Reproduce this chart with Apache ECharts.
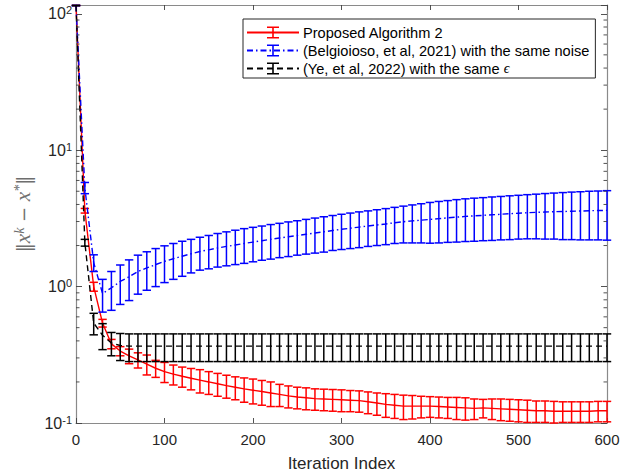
<!DOCTYPE html>
<html>
<head>
<meta charset="utf-8">
<script src="https://cdn.jsdelivr.net/npm/echarts@6/dist/echarts.min.js"></script>
<style>html,body{margin:0;padding:0;background:#fff;}#c{width:635px;height:476px;}</style>
</head>
<body>
<div id="c"></div>
<script>
// ---- data ----
const iterations = [0,10,20,30,40,50,60,70,80,90,100,110,120,130,140,150,160,170,180,190,200,
  210,220,230,240,250,260,270,280,290,300,310,320,330,340,350,360,370,380,390,400,
  410,420,430,440,450,460,470,480,490,500,510,520,530,540,550,560,570,580,590,600];

const propMean = [115,3.6,1.0,0.54,0.38,0.337,0.31,0.29,0.27,0.252,0.238,0.228,0.22,0.213,0.206,0.2,0.194,0.188,0.183,0.178,0.174,
  0.17,0.166,0.162,0.158,0.155,0.153,0.151,0.15,0.149,0.148,0.147,0.146,0.143,0.14,0.137,0.135,0.133,0.133,0.133,0.133,
  0.132,0.131,0.13,0.129,0.128,0.129,0.128,0.127,0.126,0.125,0.124,0.123,0.123,0.122,0.122,0.122,0.122,0.122,0.123,0.123];
const propStd = [0,0.14,0.075,0.035,0.03,0.026,0.038,0.037,0.045,0.036,0.04,0.038,0.037,0.038,0.04,0.038,0.037,0.036,0.035,0.036,0.036,
  0.035,0.034,0.03,0.029,0.028,0.028,0.027,0.027,0.027,0.027,0.026,0.026,0.026,0.026,0.027,0.027,0.027,0.026,0.024,0.023,
  0.023,0.023,0.024,0.024,0.022,0.02,0.022,0.023,0.023,0.023,0.023,0.022,0.022,0.022,0.021,0.021,0.021,0.021,0.021,0.021];

const belgMean = [115,5.3,1.5,0.89,0.98,1.09,1.18,1.29,1.37,1.45,1.53,1.6,1.67,1.74,1.81,1.86,1.92,1.97,2.02,2.07,2.12,
  2.17,2.22,2.27,2.32,2.37,2.42,2.47,2.52,2.58,2.63,2.68,2.73,2.78,2.83,2.88,2.94,2.99,3.03,3.07,3.11,
  3.15,3.19,3.23,3.27,3.3,3.33,3.36,3.39,3.42,3.45,3.48,3.5,3.52,3.54,3.55,3.57,3.58,3.6,3.61,3.62];
const belgStd = [0,0.5,0.21,0.24,0.31,0.35,0.39,0.41,0.43,0.45,0.46,0.47,0.48,0.48,0.49,0.51,0.53,0.55,0.57,0.59,0.6,
  0.61,0.63,0.64,0.66,0.67,0.69,0.71,0.73,0.74,0.76,0.78,0.8,0.81,0.83,0.85,0.87,0.9,0.94,0.98,1.03,
  1.06,1.08,1.11,1.13,1.15,1.16,1.18,1.19,1.21,1.22,1.24,1.26,1.29,1.31,1.34,1.36,1.38,1.4,1.41,1.43];

const yeMean = [115,2.1,0.54,0.44,0.386,0.37,0.366,0.366,0.366,0.366,0.366,0.366,0.366,0.366,0.366,0.366,0.366,0.366,0.366,0.366,0.366,
  0.366,0.366,0.366,0.366,0.366,0.366,0.366,0.366,0.366,0.366,0.366,0.366,0.366,0.366,0.366,0.366,0.366,0.366,0.366,0.366,
  0.366,0.366,0.366,0.366,0.366,0.366,0.366,0.366,0.366,0.366,0.366,0.366,0.366,0.366,0.366,0.366,0.366,0.366,0.366,0.366];
const yeStd = [0,0.12,0.097,0.095,0.075,0.083,0.084,0.084,0.084,0.084,0.084,0.084,0.084,0.084,0.084,0.084,0.084,0.084,0.084,0.084,0.084,
  0.084,0.084,0.084,0.084,0.084,0.084,0.084,0.084,0.084,0.084,0.084,0.084,0.084,0.084,0.084,0.084,0.084,0.084,0.084,0.084,
  0.084,0.084,0.084,0.084,0.084,0.084,0.084,0.084,0.084,0.084,0.084,0.084,0.084,0.084,0.084,0.084,0.084,0.084,0.084,0.084];

const seriesNames = ['Proposed Algorithm 2', '(Belgioioso, et al, 2021) with the same noise', '(Ye, et al, 2022) with the same ϵ'];
const xTicks = [0, 100, 200, 300, 400, 500, 600];
const yMinorTicks = [0.2,0.3,0.4,0.5,0.6,0.7,0.8,0.9,2,3,4,5,6,7,8,9,20,30,40,50,60,70,80,90];

const X_MIN = 0, X_MAX = 600, Y_MIN = 0.1, Y_MAX = 116;
const FONT = 'Liberation Sans, Arial, sans-serif';
const AXIS_LINE = '#8a8a8a';
const TICK = '#404040';
const IBEAM = 'path://M0,0L12,0L12,1.6L6.8,1.6L6.8,11.4L12,11.4L12,13L0,13L0,11.4L5.2,11.4L5.2,1.6L0,1.6Z';

function lineSeries(name, mean, color, dash, z) {
  return {
    type: 'line', name: name, z: z,
    data: iterations.map((x, i) => [x, mean[i]]),
    showSymbol: false, symbol: IBEAM, symbolSize: 10,
    itemStyle: { color: color },
    lineStyle: { color: color, width: 1.4, type: dash },
    emphasis: { disabled: true },
    clip: true, animation: false
  };
}
function errorSeries(name, mean, std, color, z) {
  return {
    type: 'custom', name: name, z: z,
    data: iterations.map((x, i) => [x, mean[i] - std[i], mean[i] + std[i]]),
    renderItem: function (params, api) {
      const x = api.value(0);
      const lo = api.coord([x, api.value(1)]);
      const hi = api.coord([x, api.value(2)]);
      const hw = 4.2;
      const st = { stroke: color, lineWidth: 1.5 };
      return { type: 'group', children: [
        { type: 'line', shape: { x1: lo[0], y1: lo[1], x2: hi[0], y2: hi[1] }, style: st },
        { type: 'line', shape: { x1: lo[0] - hw, y1: lo[1], x2: lo[0] + hw, y2: lo[1] }, style: st },
        { type: 'line', shape: { x1: hi[0] - hw, y1: hi[1], x2: hi[0] + hw, y2: hi[1] }, style: st }
      ]};
    },
    emphasis: { disabled: true },
    clip: false, animation: false
  };
}

const minorTickSeries = {
  type: 'custom', silent: true, z: 10,
  data: yMinorTicks.map(v => [X_MIN, v]),
  renderItem: function (params, api) {
    const l = api.coord([X_MIN, api.value(1)]);
    const r = api.coord([X_MAX, api.value(1)]);
    const st = { stroke: TICK, lineWidth: 0.9 };
    return { type: 'group', children: [
      { type: 'line', shape: { x1: l[0], y1: l[1], x2: l[0] + 3.5, y2: l[1] }, style: st },
      { type: 'line', shape: { x1: r[0], y1: r[1], x2: r[0] - 3.5, y2: r[1] }, style: st }
    ]};
  },
  animation: false
};

const chart = echarts.init(document.getElementById('c'), null, { renderer: 'svg' });
const yLabelFmt = v => '{b|10}{s|' + Math.round(Math.log10(v)) + '}';

chart.setOption({
  backgroundColor: '#ffffff',
  animation: false,
  grid: { left: 76, top: 5, right: 28, bottom: 53, outerBoundsMode: 'none', containLabel: false },
  legend: {
    data: seriesNames,
    orient: 'vertical', left: 243, top: 19,
    itemWidth: 52, itemHeight: 15, itemGap: 3,
    padding: [6, 6, 2, 3],
    backgroundColor: '#ffffff', borderColor: '#262626', borderWidth: 1, borderRadius: 0,
    selectedMode: false,
    textStyle: { fontFamily: FONT, fontSize: 14.6, color: '#000', padding: [0, 0, 0, -1],
      rich: { i: { fontFamily: 'Liberation Serif, serif', fontStyle: 'italic', fontSize: 14, color: '#000' } } },
    formatter: n => n.replace('ϵ', '{i|ϵ}')
  },
  xAxis: [{
    type: 'value', min: X_MIN, max: X_MAX, interval: 100,
    name: 'Iteration Index', nameLocation: 'middle', nameGap: 32,
    nameTextStyle: { fontFamily: FONT, fontSize: 17, color: '#262626' },
    axisLine: { show: true, onZero: false, lineStyle: { color: AXIS_LINE, width: 1.2 } },
    axisTick: { show: true, inside: true, length: 5, lineStyle: { color: TICK, width: 0.9 } },
    axisLabel: { fontFamily: FONT, fontSize: 15, color: '#262626', margin: 9,
      formatter: v => (xTicks.indexOf(v) >= 0 ? String(v) : '') },
    splitLine: { show: false }
  }, {
    type: 'value', min: X_MIN, max: X_MAX, interval: 100, position: 'top',
    axisLine: { show: true, onZero: false, lineStyle: { color: AXIS_LINE, width: 1.2 } },
    axisTick: { show: true, inside: true, length: 5, lineStyle: { color: TICK, width: 0.9 } },
    axisLabel: { show: false }, splitLine: { show: false }
  }],
  yAxis: [{
    type: 'log', logBase: 10, min: Y_MIN, max: Y_MAX,
    name: '{n|‖}{i|x}{s|k}{n| − }{i|x}{s|*}{n|‖}', nameLocation: 'middle', nameGap: 37, nameRotate: 90,
    nameTextStyle: { color: '#6e6e6e',
      rich: {
        n: { fontFamily: 'DejaVu Serif, serif', fontSize: 18, color: '#6e6e6e' },
        i: { fontFamily: 'Liberation Serif, serif', fontStyle: 'italic', fontSize: 21, color: '#6e6e6e' },
        s: { fontFamily: 'Liberation Serif, serif', fontStyle: 'italic', fontSize: 14, color: '#6e6e6e', verticalAlign: 'top' }
      } },
    axisLine: { show: true, onZero: false, lineStyle: { color: AXIS_LINE, width: 1.2 } },
    axisTick: { show: true, inside: true, length: 6, lineStyle: { color: TICK, width: 0.9 } },
    axisLabel: { showMaxLabel: false, margin: 4, formatter: yLabelFmt,
      rich: {
        b: { fontFamily: FONT, fontSize: 16, color: '#262626', lineHeight: 18 },
        s: { fontFamily: FONT, fontSize: 11, color: '#262626', verticalAlign: 'top', lineHeight: 11 }
      } },
    splitLine: { show: false }, minorTick: { show: false }
  }, {
    type: 'log', logBase: 10, min: Y_MIN, max: Y_MAX, position: 'right',
    axisLine: { show: true, onZero: false, lineStyle: { color: AXIS_LINE, width: 1.2 } },
    axisTick: { show: true, inside: true, length: 6, lineStyle: { color: TICK, width: 0.9 } },
    axisLabel: { show: false }, splitLine: { show: false }
  }],
  series: [
    lineSeries(seriesNames[0], propMean, '#ff0000', 'solid', 2),
    errorSeries(seriesNames[0], propMean, propStd, '#ff0000', 2),
    lineSeries(seriesNames[1], belgMean, '#0000ff', [6, 3, 1.5, 3], 3),
    errorSeries(seriesNames[1], belgMean, belgStd, '#0000ff', 3),
    lineSeries(seriesNames[2], yeMean, '#000000', [6, 4], 4),
    errorSeries(seriesNames[2], yeMean, yeStd, '#000000', 4),
    minorTickSeries
  ]
});
</script>
</body>
</html>
